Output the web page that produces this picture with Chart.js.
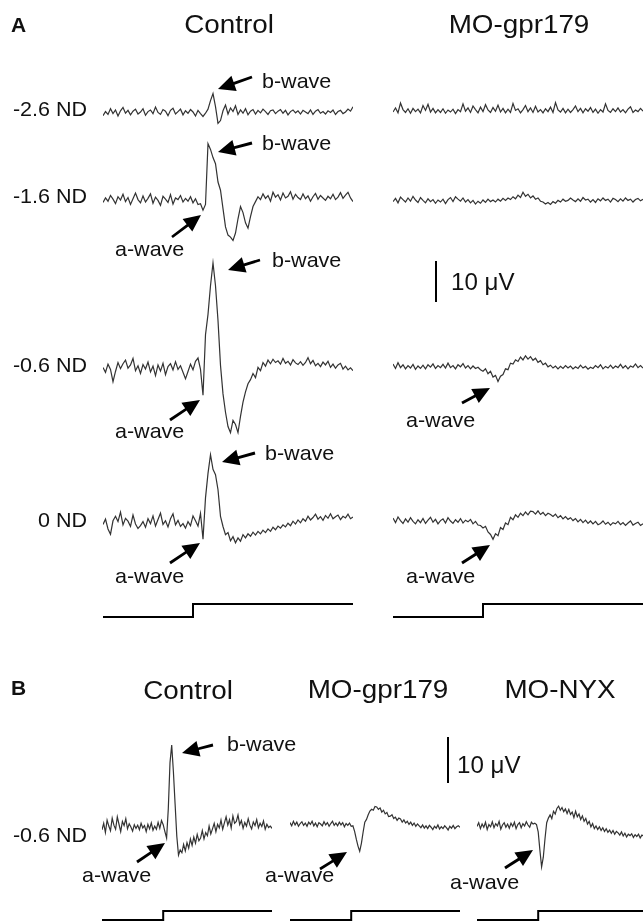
<!DOCTYPE html>
<html>
<head>
<meta charset="utf-8">
<script src="https://cdn.jsdelivr.net/npm/chart.js@4.4.1/dist/chart.umd.min.js"></script>
<style>
html, body { margin: 0; padding: 0; background: #fff; overflow: hidden; }
#fig { position: relative; width: 643px; height: 922px; overflow: hidden; }
#fig canvas { position: absolute; }
#notes { position: absolute; left: 0; top: 0; }
#notes text { font-family: "Liberation Sans", Arial, sans-serif; fill: #111; }
</style>
</head>
<body>
<div id="fig"><svg id="notes" width="643" height="922"></svg></div>
<script>
// sample times (ms from light onset), 5 ms steps
const timeMs = [
  -180,-175,-170,-165,-160,-155,-150,-145,-140,-135,
  -130,-125,-120,-115,-110,-105,-100,-95,-90,-85,
  -80,-75,-70,-65,-60,-55,-50,-45,-40,-35,
  -30,-25,-20,-15,-10,-5,0,5,10,15,
  20,25,30,35,40,45,50,55,60,65,
  70,75,80,85,90,95,100,105,110,115,
  120,125,130,135,140,145,150,155,160,165,
  170,175,180,185,190,195,200,205,210,215,
  220,225,230,235,240,245,250,255,260,265,
  270,275,280,285,290,295,300,305,310,315,
  320
];

// light stimulus (off -> on at 0 ms)
const stimTime = [-180, 0, 0, 320];
const stimLevel = [0, 0, 1, 1];
const scaleBarUV = [0, 10];

// ERG traces, uV
// panel A, Control
const ctl26 = [
  -0.8,0.2,-0.5,0.9,-0.3,0.6,-0.9,0.4,1.2,-0.2,
  0.5,-0.6,0.3,0.8,-0.4,0.1,0.9,-0.7,0.2,0.6,
  -0.3,1.3,0.0,-0.5,0.7,0.3,-0.8,0.5,1.0,-0.4,
  0.2,0.8,-0.6,0.4,-0.2,0.7,0.1,-0.9,0.5,-0.3,
  -1.0,-0.2,0.8,2.9,4.6,1.4,-2.7,-2.0,0.4,1.8,
  -0.4,1.1,0.2,1.6,-0.5,0.6,-0.2,0.9,-0.6,0.3,
  0.7,-0.4,0.5,-0.1,0.8,0.2,-0.5,0.4,0.6,-0.3,
  0.3,0.7,-0.2,0.5,-0.6,0.2,0.6,-0.1,0.4,-0.4,
  0.5,0.1,-0.3,0.6,-0.5,0.3,0.7,-0.2,0.2,-0.4,
  0.4,0.0,0.6,-0.5,0.2,0.5,-0.3,0.1,0.8,0.3,
  1.4
];
const ctl16 = [
  -0.5,0.6,-0.2,1.2,0.3,-0.8,0.9,0.1,1.5,-0.3,
  0.7,-1.0,0.4,1.8,0.2,-0.6,1.1,-0.4,0.5,1.6,
  -0.7,0.8,0.0,-1.2,1.0,0.3,-0.5,1.4,-0.9,0.6,
  0.2,1.2,-0.4,0.5,-0.2,0.9,-0.6,0.4,-1.0,-0.8,
  -2.4,-1.0,13.9,12.5,10.5,9.0,4.5,2.5,-2.0,-6.5,
  -8.5,-9.0,-9.8,-8.0,-4.5,-1.5,-3.0,-5.5,-6.8,-4.0,
  -1.5,-0.3,0.9,0.2,1.6,0.5,1.2,-0.2,2.0,0.8,
  1.4,0.1,1.8,0.6,1.0,2.1,0.3,1.5,0.7,0.2,
  1.6,0.4,1.1,-0.2,0.9,1.7,0.3,1.2,0.6,0.0,
  1.0,0.4,1.5,0.2,0.8,1.9,0.5,1.3,2.0,0.6,
  -0.3
];
const ctl06 = [
  0.0,-1.2,0.8,-0.5,-3.5,-1.0,1.2,-0.3,0.9,1.8,
  -0.2,0.6,2.2,-0.8,0.4,-1.5,0.7,-0.4,1.3,-1.1,
  0.3,-2.0,0.6,-0.9,1.0,-1.8,0.2,0.9,-0.6,1.4,
  -0.5,0.4,-1.2,-2.8,-1.0,0.8,-0.6,1.5,2.3,-0.5,
  -6.8,8.0,13.0,20.0,25.6,20.0,11.5,0.5,-6.5,-11.0,
  -14.5,-16.0,-13.0,-14.0,-16.0,-12.0,-8.5,-6.0,-4.0,-3.0,
  -1.5,-2.5,0.0,-0.8,1.2,0.3,1.8,0.9,2.0,1.2,
  1.6,0.8,2.2,1.0,1.5,0.6,1.9,1.1,0.7,1.4,
  0.5,1.2,2.4,0.9,1.7,0.4,1.0,0.2,1.3,0.6,
  1.5,0.0,0.8,-0.2,0.6,1.0,-0.4,0.3,-0.6,-0.1,
  -0.8
];
const ctl0 = [
  -0.5,0.8,-1.6,-2.9,0.4,1.5,0.2,2.5,-0.6,1.0,
  0.3,-1.0,1.8,-0.4,-1.5,-0.8,0.2,-1.2,0.9,-0.3,
  1.6,-0.9,0.7,2.3,-0.5,0.4,-1.1,0.9,2.1,-0.6,
  0.5,-1.0,-0.3,-1.4,0.2,-0.8,1.6,0.4,-0.9,2.2,
  -4.1,6.0,12.0,16.6,13.0,11.7,8.0,1.5,-1.0,-3.0,
  -2.5,-4.5,-3.5,-5.0,-3.8,-4.6,-3.0,-3.8,-2.8,-3.4,
  -2.4,-3.1,-2.2,-2.8,-1.9,-2.5,-1.6,-2.2,-1.2,-1.8,
  -0.9,-1.4,-0.6,-1.1,-0.2,-0.8,0.3,-0.4,0.6,-0.1,
  0.9,0.3,1.5,0.6,1.2,2.0,0.8,1.4,0.5,1.7,
  1.0,2.1,0.9,1.4,1.8,0.7,1.5,1.1,2.0,0.9,
  1.3
];
// panel A, MO-gpr179
const mo26 = [
  -0.4,0.6,-0.6,1.8,0.2,-0.5,0.4,-0.7,0.5,-0.3,
  0.3,-0.6,1.2,0.0,1.5,-0.4,0.5,-0.6,0.2,-0.5,
  0.4,-0.7,0.1,-0.4,0.3,-0.8,0.2,-0.3,1.6,-0.2,
  0.6,-0.5,1.1,0.2,-0.6,0.8,-0.3,1.4,0.1,-0.5,
  0.7,-0.2,1.3,-0.4,0.5,-0.6,0.3,-0.5,1.7,0.0,
  0.4,-0.6,0.2,1.2,-0.3,0.6,-0.5,1.0,-0.4,0.2,
  -0.6,0.4,-0.3,0.8,-0.5,1.9,0.1,-0.4,0.5,-0.6,
  0.3,-0.5,0.2,1.1,-0.3,0.5,-0.6,0.4,-0.2,0.7,
  -0.5,0.3,-0.7,0.2,-0.4,1.6,0.0,-0.5,0.4,-0.3,
  0.6,-0.4,0.2,-0.6,0.3,0.9,-0.5,0.1,-0.3,0.5,
  -0.2
];
const mo16 = [
  -0.3,0.5,-0.6,0.8,0.2,-0.4,0.6,-0.2,1.0,0.1,
  -0.5,0.7,0.0,-0.6,0.4,-0.3,0.2,-0.7,0.1,-0.4,
  0.3,-0.8,0.2,0.7,-0.3,0.9,0.3,-0.2,0.6,-0.4,
  0.2,-0.6,0.0,-0.9,-0.2,-0.7,0.1,-0.5,0.3,-0.3,
  0.1,-0.4,0.3,-0.2,0.5,0.0,0.6,0.2,0.9,0.4,
  1.3,0.7,2.0,1.0,1.5,0.6,1.1,0.3,0.6,-0.2,
  -0.4,-0.9,-0.5,-1.0,-0.3,-0.7,0.0,-0.4,0.3,-0.2,
  0.0,0.6,0.1,-0.3,0.4,-0.2,0.7,0.1,0.3,-0.4,
  0.2,-0.5,0.4,-0.1,0.6,0.0,0.3,-0.4,0.5,0.2,
  -0.3,0.4,-0.2,0.6,0.0,0.3,-0.4,0.2,0.5,-0.1,
  0.3
];
const mo06 = [
  0.6,-0.5,0.9,-0.3,0.4,-0.6,0.2,-0.4,0.5,-0.7,
  0.1,-0.5,0.3,-0.6,0.4,-0.2,0.6,-0.5,0.2,-0.3,
  0.5,-0.4,0.8,-0.3,0.2,-0.6,0.4,-0.1,0.7,-0.4,
  0.2,-0.6,0.1,-0.5,-0.2,-0.8,-1.2,-0.6,-1.8,-1.2,
  -2.6,-2.2,-3.7,-2.4,-2.0,-0.6,-0.8,0.8,0.6,1.6,
  1.2,2.3,1.6,2.6,1.8,2.4,1.5,2.0,1.0,1.4,
  0.4,0.8,-0.1,0.3,-0.4,0.1,-0.6,0.0,-0.5,0.2,
  -0.4,0.1,-0.6,-0.1,-0.5,0.3,-0.4,0.0,-0.7,-0.2,
  -0.5,0.2,-0.3,0.4,-0.6,0.0,-0.4,0.3,-0.5,0.1,
  -0.3,0.5,-0.4,0.2,-0.6,0.1,-0.2,0.6,-0.3,0.2,
  -0.4
];
const mo0 = [
  0.8,-0.3,1.1,0.2,-0.5,0.6,-0.2,0.9,0.0,-0.6,
  0.4,-0.3,0.7,-0.5,0.3,1.0,-0.2,0.5,-0.6,0.2,
  0.6,-0.4,0.9,0.1,-0.5,0.4,-0.2,0.7,-0.4,0.3,
  -0.1,0.5,-0.6,0.0,-0.9,-1.0,-1.6,-1.2,-2.6,-3.2,
  -4.4,-3.0,-3.5,-1.5,-2.0,-0.4,-0.8,1.0,0.4,1.6,
  1.0,2.0,1.4,2.3,1.6,2.5,2.4,1.8,2.6,1.7,
  2.2,1.4,2.0,1.7,1.2,1.8,0.9,1.4,0.6,1.2,
  0.5,0.9,0.2,0.7,-0.1,0.5,-0.3,0.3,-0.5,0.1,
  -0.6,0.0,-0.8,-0.5,0.1,-0.7,-0.2,-0.9,-0.3,-0.6,
  0.0,-0.8,-0.3,-1.0,-0.4,0.1,-0.9,-0.5,-0.2,-1.0,
  -0.6
];
// panel B, -0.6 ND
const bCtl = [
  -0.6,0.8,-1.2,1.5,0.2,-0.8,1.9,0.4,-0.5,2.2,
  0.6,-1.0,1.2,0.3,1.8,-0.4,0.7,0.0,-0.9,0.5,
  -0.3,0.4,-0.6,0.8,-0.2,0.3,-1.0,0.6,-0.4,0.9,
  -0.7,0.2,-0.5,1.0,-0.3,1.4,0.5,-1.0,-2.4,4.0,
  14.0,17.8,12.0,5.0,-2.0,-6.1,-5.0,-5.6,-3.8,-5.2,
  -3.4,-4.6,-2.6,-4.0,-2.2,-3.5,-1.6,-3.0,-2.4,-0.8,
  -2.6,-1.2,-1.9,0.2,-1.5,-0.4,0.8,-1.0,0.6,-0.2,
  1.5,-0.5,0.9,2.2,0.4,1.6,-0.2,2.4,0.8,1.2,
  2.6,0.5,1.4,-0.3,1.0,0.2,1.8,0.4,-0.4,1.1,
  0.3,1.6,-0.2,0.8,0.1,1.3,-0.5,0.6,-0.1,0.2,
  -0.3
];
const bGpr = [
  0.3,-0.4,0.6,-0.2,0.4,-0.5,0.1,0.5,-0.3,0.2,
  -0.5,0.4,-0.1,0.6,-0.4,0.2,-0.6,0.3,0.0,-0.4,
  0.5,-0.2,0.3,-0.5,0.1,0.6,-0.3,0.2,-0.4,0.4,
  -0.2,0.3,-0.6,0.1,-0.3,0.2,-0.5,-0.4,-1.6,-3.3,
  -4.8,-5.9,-4.2,-1.8,0.4,1.0,2.0,2.8,3.2,3.0,
  3.8,3.7,3.2,3.5,2.6,3.0,2.2,2.5,1.6,1.7,
  2.0,1.2,1.5,0.8,1.3,1.1,0.4,0.9,0.2,0.6,
  -0.1,0.4,-0.3,0.2,-0.5,0.0,-0.4,-0.8,-0.2,-0.9,
  -0.4,-1.0,-0.3,-0.7,-1.2,-0.5,-0.9,-0.2,-1.1,-0.6,
  -1.0,-0.4,-0.8,-1.3,-0.5,-0.9,-0.3,-1.0,-0.6,-0.4,
  -0.7
];
const bNyx = [
  -0.3,0.5,-0.8,0.2,-0.5,0.6,-1.0,0.1,-0.4,0.7,
  -0.6,0.3,-0.2,0.8,-0.9,0.0,0.5,-0.5,0.2,-0.7,
  0.4,-0.3,0.6,-0.8,0.1,0.5,-0.6,0.3,-0.2,0.7,
  0.0,-0.5,0.6,0.2,0.4,0.1,-1.5,-5.5,-9.1,-7.0,
  -3.0,0.5,1.5,2.2,1.4,3.0,2.4,3.6,4.1,3.2,
  3.8,2.9,3.5,2.5,3.4,2.3,2.8,1.6,3.0,1.8,
  2.4,1.2,2.0,0.8,1.4,0.2,0.8,-0.4,0.3,-0.8,
  -0.2,-1.0,-0.4,-1.2,-0.6,-1.4,-0.8,-1.6,-1.1,-1.8,
  -1.2,-2.0,-1.4,-1.7,-2.2,-1.5,-2.4,-1.8,-2.6,-2.0,
  -2.3,-1.9,-2.7,-2.1,-2.5,-2.0,-2.8,-2.2,-2.4,-2.6,
  -2.2
];

// panel geometry: width of a trace (px), px per uV, visible uV range
const panelA = { w: 250, ppu: 4.1, vMin: -20, vMax: 30, stepPx: 13 };
const panelB = { w: 170, ppu: 4.6, vMin: -15, vMax: 25, stepPx: 9 };

const fig = document.getElementById('fig');
const notes = document.getElementById('notes');

function addCanvas(left, top, w, h) {
  const cv = document.createElement('canvas');
  cv.width = w; cv.height = h;
  cv.style.left = left + 'px';
  cv.style.top = top + 'px';
  fig.insertBefore(cv, notes);
  return cv;
}

function baseOptions(xMin, xMax, yMin, yMax, pad) {
  return {
    responsive: false,
    animation: false,
    events: [],
    layout: { padding: pad },
    plugins: { legend: { display: false }, tooltip: { enabled: false } },
    scales: {
      x: { type: 'linear', min: xMin, max: xMax, display: false },
      y: { type: 'linear', min: yMin, max: yMax, display: false }
    }
  };
}

function traceChart(values, left, baseY, p) {
  const top = baseY - p.vMax * p.ppu;
  const h = (p.vMax - p.vMin) * p.ppu;
  const cv = addCanvas(left, top, p.w, h);
  new Chart(cv, {
    type: 'line',
    data: {
      datasets: [{
        data: timeMs.map((t, i) => ({ x: t, y: values[i] })),
        borderColor: '#333',
        borderWidth: 1.2,
        pointRadius: 0,
        tension: 0,
        fill: false,
        clip: false
      }]
    },
    options: baseOptions(timeMs[0], timeMs[timeMs.length - 1], p.vMin, p.vMax, 0)
  });
}

function stepChart(left, highY, p) {
  const cv = addCanvas(left, highY - 3, p.w, p.stepPx + 6);
  new Chart(cv, {
    type: 'line',
    data: {
      datasets: [{
        data: stimTime.map((t, i) => ({ x: t, y: stimLevel[i] })),
        borderColor: '#000',
        borderWidth: 2,
        pointRadius: 0,
        tension: 0,
        clip: false
      }]
    },
    options: baseOptions(timeMs[0], timeMs[timeMs.length - 1], 0, 1, { top: 3, bottom: 3 })
  });
}

function scaleBar(x, topY, p) {
  const cv = addCanvas(x - 3, topY - 2, 6, 10 * p.ppu + 4);
  new Chart(cv, {
    type: 'line',
    data: {
      datasets: [{
        data: scaleBarUV.map(v => ({ x: 0.5, y: v })),
        borderColor: '#000',
        borderWidth: 2,
        pointRadius: 0,
        clip: false
      }]
    },
    options: baseOptions(0, 1, 0, 10, { top: 2, bottom: 2 })
  });
}

// panel A
traceChart(ctl26, 103, 113, panelA);
traceChart(ctl16, 103, 201, panelA);
traceChart(ctl06, 103, 368, panelA);
traceChart(ctl0, 103, 523, panelA);
traceChart(mo26, 393, 111, panelA);
traceChart(mo16, 393, 201, panelA);
traceChart(mo06, 393, 367, panelA);
traceChart(mo0, 393, 522, panelA);
stepChart(103, 604, panelA);
stepChart(393, 604, panelA);
scaleBar(436, 261, panelA);

// panel B
traceChart(bCtl, 102, 827, panelB);
traceChart(bGpr, 290, 824, panelB);
traceChart(bNyx, 477, 825, panelB);
stepChart(102, 911, panelB);
stepChart(290, 911, panelB);
stepChart(477, 911, panelB);
scaleBar(448, 737, panelB);

// text (figure fonts are a touch wider than Arial)
const SX = 1.05;
const SVGNS = 'http://www.w3.org/2000/svg';
function label(str, x, y, size, anchor, bold) {
  const el = document.createElementNS(SVGNS, 'text');
  el.setAttribute('transform', `translate(${x},${y}) scale(${SX},1)`);
  el.setAttribute('font-size', size);
  el.setAttribute('text-anchor', anchor || 'start');
  if (bold) el.setAttribute('font-weight', 'bold');
  el.textContent = str;
  notes.appendChild(el);
}

label('A', 11, 32, 20, 'start', true);
label('Control', 229, 33, 26.5, 'middle');
label('MO-gpr179', 519, 33, 26.5, 'middle');
label('-2.6 ND', 87, 116, 20.5, 'end');
label('-1.6 ND', 87, 203, 20.5, 'end');
label('-0.6 ND', 87, 372, 20.5, 'end');
label('0 ND', 87, 527, 20.5, 'end');
label('b-wave', 262, 88, 20.5);
label('b-wave', 262, 150, 20.5);
label('a-wave', 115, 256, 20.5);
label('b-wave', 272, 267, 20.5);
label('a-wave', 115, 438, 20.5);
label('b-wave', 265, 460, 20.5);
label('a-wave', 115, 583, 20.5);
label('a-wave', 406, 427, 20.5);
label('a-wave', 406, 583, 20.5);
label('10 \u03bcV', 451, 290, 23);

label('B', 11, 695, 20, 'start', true);
label('Control', 188, 699, 26.5, 'middle');
label('MO-gpr179', 378, 698, 26.5, 'middle');
label('MO-NYX', 560, 698, 26.5, 'middle');
label('-0.6 ND', 87, 842, 20.5, 'end');
label('b-wave', 227, 751, 20.5);
label('a-wave', 82, 882, 20.5);
label('a-wave', 265, 882, 20.5);
label('a-wave', 450, 889, 20.5);
label('10 \u03bcV', 457, 773, 23);

// arrows: [tailX, tailY, tipX, tipY]
const arrows = [
  [252, 77, 218, 89], [252, 143, 218, 152], [172, 237, 201, 215],
  [260, 260, 228, 270], [170, 420, 200, 400], [255, 453, 222, 462],
  [170, 563, 200, 543], [462, 403, 490, 388], [462, 563, 490, 545],
  [213, 745, 182, 753], [137, 862, 165, 843], [320, 869, 347, 852],
  [505, 868, 533, 850]
];
function arrow(a) {
  const [x0, y0, x1, y1] = a;
  const len = Math.hypot(x1 - x0, y1 - y0);
  const ux = (x1 - x0) / len, uy = (y1 - y0) / len;
  const nx = -uy, ny = ux;
  const L = 17, W = 8, s = 1.4;
  const bx = x1 - ux * L, by = y1 - uy * L;
  const pts = [
    [x0 + nx * s, y0 + ny * s], [bx + nx * s, by + ny * s], [bx + nx * W, by + ny * W],
    [x1, y1], [bx - nx * W, by - ny * W], [bx - nx * s, by - ny * s], [x0 - nx * s, y0 - ny * s]
  ];
  const el = document.createElementNS(SVGNS, 'polygon');
  el.setAttribute('points', pts.map(p => p[0].toFixed(1) + ',' + p[1].toFixed(1)).join(' '));
  el.setAttribute('fill', '#000');
  notes.appendChild(el);
}
arrows.forEach(arrow);
</script>
</body>
</html>
